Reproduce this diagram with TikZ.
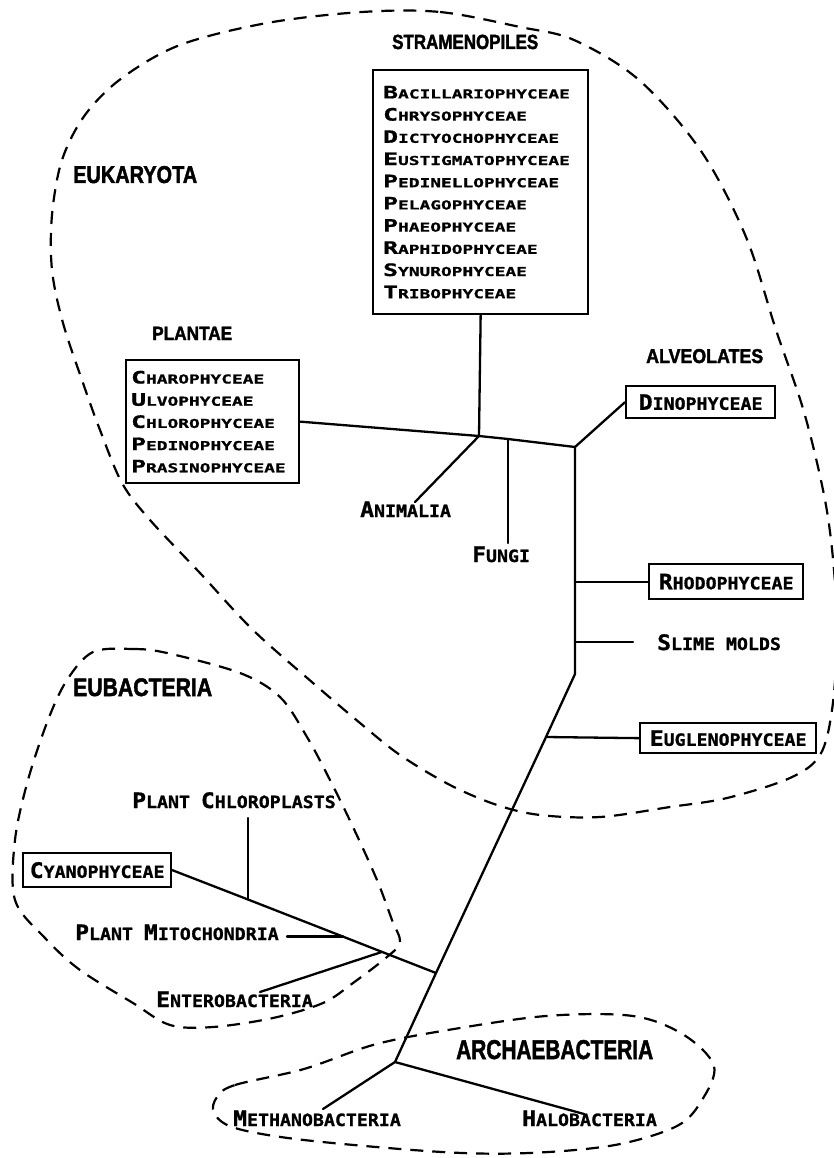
\documentclass[tikz,border=0pt]{standalone}
\usepackage{fontspec}
\usepackage{graphicx}
\newfontfamily\listfont{DejaVu Sans Mono}[FakeStretch=1.45, BoldFeatures={FakeBold=1}]
\newfontfamily\labfont{DejaVu Sans Mono}[FakeStretch=1.08, BoldFeatures={FakeBold=1}]
\newfontfamily\ttlfont{Liberation Sans}[BoldFeatures={FakeBold=2}]
\newcommand\Lb[1]{{\fontsize{17.1}{22.2}\selectfont #1}}
\newcommand\Bb[1]{{\fontsize{21.3}{25}\selectfont #1}}
\newcommand\Ttl[3]{\resizebox{#1pt}{#2pt}{\ttlfont\bfseries #3}}
\begin{document}
\begin{tikzpicture}[x=1pt,y=-1pt,
  tree/.style={line width=2.3pt, line cap=round, line join=round},
  outline/.style={line width=2.2pt, dash pattern=on 13pt off 9pt},
  listbox/.style={draw, line width=2.3pt, anchor=north west, align=left,
     font=\listfont\bfseries\fontsize{12.3}{22.2}\selectfont},
  labbox/.style={draw, line width=2.3pt, anchor=north west, inner sep=0pt,
     font=\labfont\bfseries\fontsize{16.9}{25}\selectfont},
  lab/.style={anchor=base west, inner sep=0pt, font=\labfont\bfseries\fontsize{16.9}{25}\selectfont},
  ttl/.style={anchor=base west, inner sep=0pt}]
\useasboundingbox (0,0) rectangle (833,1158);

% dashed group outlines
\draw[outline] plot[smooth cycle, tension=0.55] coordinates {
 (362,12) (440,12) (520,27) (574,40) (639,80) (701,151) (746,237) (776,330)
 (804,412) (825,500) (834,570) (837,640) (832,710) (820,755) (790,778) (727,798)
 (670,807) (600,817) (540,815) (497,805) (450,785) (400,755) (360,723) (313,683)
 (253,630) (200,573) (150,520) (122,483) (100,430) (83,383) (63,323) (52,270)
 (52,215) (62,160) (85,115) (122,78) (180,45) (267,23)};
\draw[outline] plot[smooth cycle, tension=0.55] coordinates {
 (93,652) (133,649) (167,653) (240,673) (280,697) (307,737) (330,780) (353,827)
 (377,880) (392,920) (400,942) (387,957) (353,983) (323,1003) (273,1018) (213,1027)
 (170,1025) (133,1003) (80,970) (45,938) (15,900) (15,840) (28,780) (48,720) (67,680)};
\draw[outline] plot[smooth cycle, tension=0.55] coordinates {
 (217,1097) (235,1085) (304,1069) (373,1045) (442,1031) (546,1016) (633,1016)
 (684,1035) (714,1066) (702,1100) (677,1126) (615,1145) (529,1153) (442,1152)
 (304,1140) (235,1128) (214,1113)};

% group titles
\node[ttl] (tstram) at (392,49) {\Ttl{146}{14.3}{STRAMENOPILES}};
\node[ttl] (teuk) at (73,183) {\Ttl{124}{17}{EUKARYOTA}};
\node[ttl] (tplant) at (152,340) {\Ttl{80}{13.3}{PLANTAE}};
\node[ttl] (talv) at (646,363) {\Ttl{117}{14}{ALVEOLATES}};
\node[ttl] (teub) at (73,696) {\Ttl{139}{17.7}{EUBACTERIA}};
\node[ttl] (tarch) at (456,1059) {\Ttl{197}{19}{ARCHAEBACTERIA}};

% boxes
\node[listbox, text width=195pt, inner xsep=10pt, inner ysep=0pt, minimum height=244pt] (stram) at (372,69) {%
\Lb{B}ACILLARIOPHYCEAE\\ \Lb{C}HRYSOPHYCEAE\\ \Lb{D}ICTYOCHOPHYCEAE\\ \Lb{E}USTIGMATOPHYCEAE\\
\Lb{P}EDINELLOPHYCEAE\\ \Lb{P}ELAGOPHYCEAE\\ \Lb{P}HAEOPHYCEAE\\ \Lb{R}APHIDOPHYCEAE\\
\Lb{S}YNUROPHYCEAE\\ \Lb{T}RIBOPHYCEAE};
\node[listbox, text width=163pt, inner xsep=5pt, inner ysep=0pt, minimum height=123pt] (plantae) at (125,359) {%
\Lb{C}HAROPHYCEAE\\ \Lb{U}LVOPHYCEAE\\ \Lb{C}HLOROPHYCEAE\\ \Lb{P}EDINOPHYCEAE\\ \Lb{P}RASINOPHYCEAE};
\node[labbox, minimum width=149pt, minimum height=32pt] (dino) at (625,385) {\Bb{D}INOPHYCEAE};
\node[labbox, minimum width=154pt, minimum height=35pt] (rhodo) at (648,563) {\Bb{R}HODOPHYCEAE};
\node[labbox, minimum width=176pt, minimum height=30pt] (eugl) at (639,722) {\Bb{E}UGLENOPHYCEAE};
\node[labbox, minimum width=148pt, minimum height=34pt] (cyan) at (22,852) {\Bb{C}YANOPHYCEAE};

% plain labels
\node[lab] (anim) at (360,517) {\Bb{A}NIMALIA};
\node[lab] (fungi) at (472,562) {\Bb{F}UNGI};
\node[lab] (slime) at (657,650) {\Bb{S}LIME MOLDS};
\node[lab] (chl) at (132,808) {\Bb{P}LANT \Bb{C}HLOROPLASTS};
\node[lab] (mito) at (75,940) {\Bb{P}LANT \Bb{M}ITOCHONDRIA};
\node[lab] (entero) at (156,1007) {\Bb{E}NTEROBACTERIA};
\node[lab] (metha) at (233,1126) {\Bb{M}ETHANOBACTERIA};
\node[lab] (halo) at (522,1126) {\Bb{H}ALOBACTERIA};

% junctions and free ends
\coordinate (j1) at (479,436);
\coordinate (jf) at (508,439);
\coordinate (j2) at (575,447);
\coordinate (jr) at (j2 |- rhodo.west);
\coordinate (js) at (575,642);
\coordinate (j3) at (575,674);
\coordinate (je) at (546,737);
\coordinate (jb) at (436,973);
\coordinate (ja) at (395,1062);
\coordinate (jc) at (248,899.5);
\coordinate (jm) at (343,936.6);
\coordinate (jn) at (382,951.9);
\coordinate (animend) at (415,502);
\coordinate (fungend) at (508,543);
\coordinate (slimeend) at (633,642);
\coordinate (chlend) at (248,818);
\coordinate (mitoend) at (287,936.6);
\coordinate (entend) at (260,992);
\coordinate (methend) at (323,1109);
\coordinate (haloend) at (584,1114);

% tree
\draw[tree] (plantae.east) -- (j1) -- (jf) -- (j2);
\draw[tree] (stram.south) -- (j1);
\draw[tree] (j1) -- (animend);
\draw[tree] (jf) -- (fungend);
\draw[tree] (j2) -- (dino.west);
\draw[tree] (j2) -- (jr) -- (js) -- (j3) -- (je) -- (jb) -- (ja);
\draw[tree] (jr) -- (rhodo.west);
\draw[tree] (js) -- (slimeend);
\draw[tree] (je) -- (eugl.west);
\draw[tree] (jb) -- (jn) -- (jm) -- (jc) -- (cyan.east);
\draw[tree] (jc) -- (chlend);
\draw[tree] (jm) -- (mitoend);
\draw[tree] (jn) -- (entend);
\draw[tree] (ja) -- (methend);
\draw[tree] (ja) -- (haloend);
\end{tikzpicture}
\end{document}
